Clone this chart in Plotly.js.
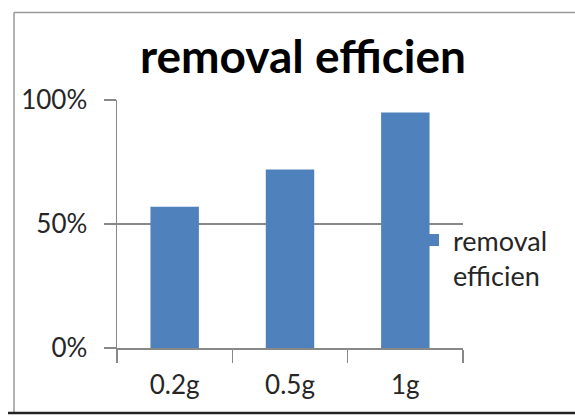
<!DOCTYPE html>
<html>
<head>
<meta charset="utf-8">
<script src="https://cdn.plot.ly/plotly-3.0.1.min.js"></script>
<style>
html,body{margin:0;padding:0;background:#fff;}
#chart{width:575px;height:417px;}
</style>
</head>
<body>
<div id="chart"></div>
<script>
var categories = ["0.2g", "0.5g", "1g"];
var efficiency = [0.57, 0.72, 0.95];
var seriesName = "removal<br>efficien";
var chartTitle = "removal efficien";
var yTicks = [0, 0.5, 1];
var yTickLabels = ["0%", "50%", "100%"];

var W = 575, H = 417;
var L = 117, R = 463, T = 100, B = 348;

var trace = {
  type: "bar",
  x: categories,
  y: efficiency,
  name: seriesName,
  marker: {color: "#4F81BD"},
  showlegend: true
};

function cx(p){ return (p - L) / (R - L); }
function cy(p){ return (B - p) / (B - T); }

var layout = {
  width: W, height: H,
  margin: {l: L, r: W - R, t: T, b: H - B, pad: 0},
  paper_bgcolor: "#ffffff",
  plot_bgcolor: "#ffffff",
  font: {family: "Lato, 'Open Sans', sans-serif", color: "#262626"},
  bargap: 0.58,
  title: {
    text: chartTitle,
    font: {family: "Lato, 'Open Sans', sans-serif", size: 46, color: "#000000", weight: "bold"},
    x: 303 / W, xref: "container", xanchor: "center",
    y: 1 - 57 / H, yref: "container", yanchor: "middle"
  },
  xaxis: {
    type: "category",
    range: [-0.5, 2.5],
    showline: true, linecolor: "#888888", linewidth: 1.5,
    ticks: "outside", ticklen: 13, tickcolor: "#888888", tickwidth: 1.5,
    tickson: "boundaries",
    showgrid: false,
    tickfont: {size: 26, color: "#262626"},
    ticklabelstandoff: 13,
    fixedrange: true
  },
  yaxis: {
    range: [0, 1],
    tickvals: yTicks, ticktext: yTickLabels,
    showline: true, linecolor: "#888888", linewidth: 1.5,
    ticks: "outside", ticklen: 12, tickcolor: "#888888", tickwidth: 1.5,
    showgrid: true, gridcolor: "#888888", gridwidth: 1.5,
    zeroline: false,
    tickfont: {size: 26, color: "#262626"},
    ticklabelstandoff: 11,
    fixedrange: true
  },
  legend: {
    x: cx(413), xref: "paper", xanchor: "left",
    y: cy(216), yref: "paper", yanchor: "top",
    valign: "top",
    bgcolor: "rgba(0,0,0,0)",
    font: {size: 27, color: "#262626"},
    itemwidth: 30
  },
  shapes: [
    {type: "line", xref: "paper", yref: "paper", x0: cx(14), x1: cx(580), y0: cy(12.5), y1: cy(12.5), line: {color: "#999999", width: 1.5}},
    {type: "line", xref: "paper", yref: "paper", x0: cx(14), x1: cx(14), y0: cy(12.5), y1: cy(413), line: {color: "#999999", width: 1.5}},
    {type: "line", xref: "paper", yref: "paper", x0: cx(8), x1: cx(580), y0: cy(413), y1: cy(413), line: {color: "#222222", width: 2.5}}
  ]
};

Plotly.newPlot("chart", [trace], layout, {displayModeBar: false, staticPlot: true});
</script>
</body>
</html>
